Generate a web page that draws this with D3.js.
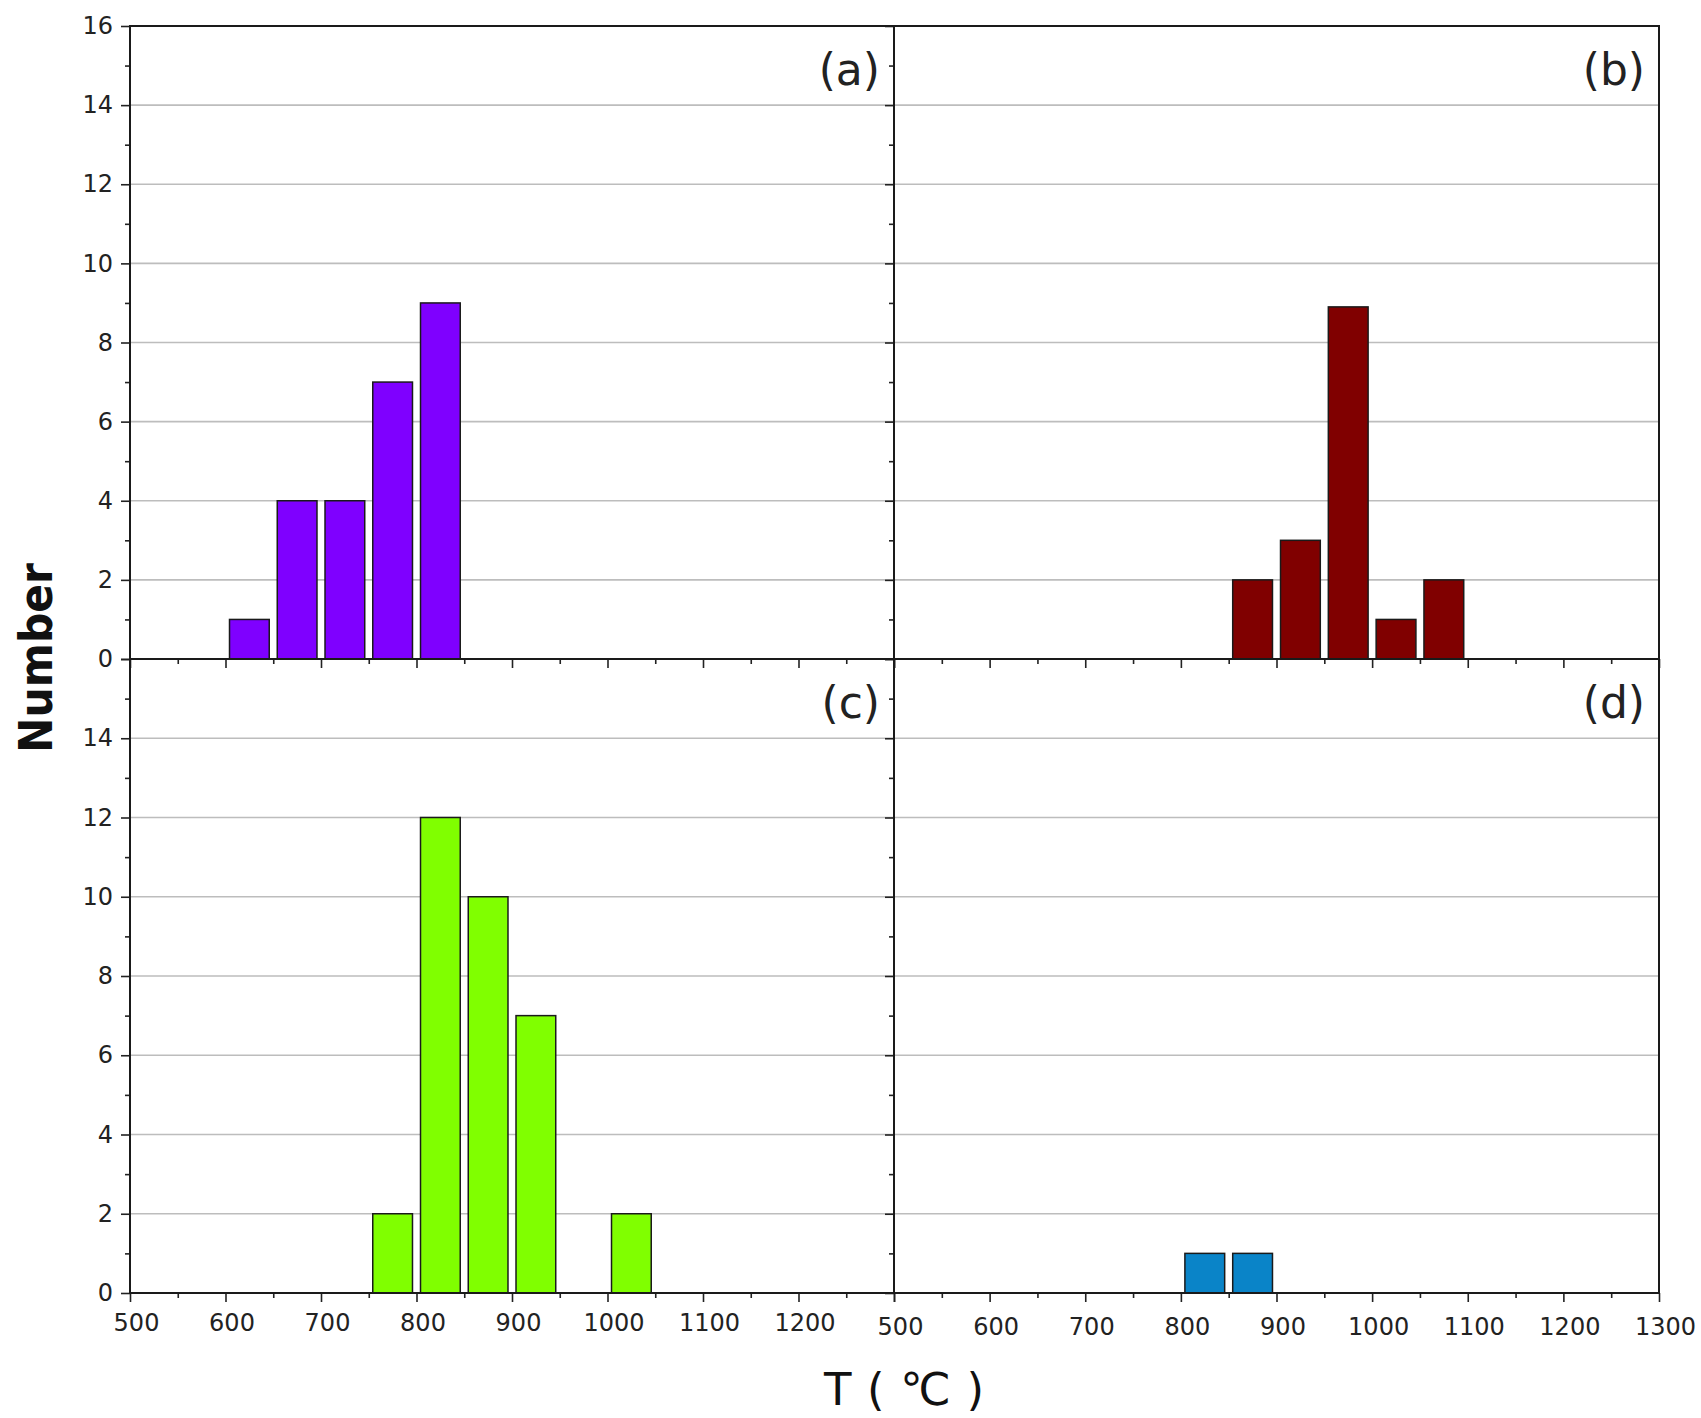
<!DOCTYPE html>
<html>
	<head>
		<title>Temperature histograms</title>
		<style>
			body, html {
				margin: 0;
				background: #fff;
			}

			.tick text {
				font-family: 'DejaVu Sans', sans-serif;
				font-size: 24px;
				fill: #222;
			}

			.tick line {
				stroke: #222;
				stroke-width: 1.6px;
			}

			.grid {
				stroke: #bdbdbd;
				stroke-width: 1.6px;
			}

			.frame {
				stroke: #1a1a1a;
				stroke-width: 2px;
				fill: none;
			}

			.bar {
				stroke: #1a1a1a;
				stroke-width: 1.5px;
			}
		</style>
	</head>
	<body>

		<svg id="svg" width="1701" height="1418"></svg>

		<script src="https://d3js.org/d3.v7.min.js"></script>
		<script>
			// Data: each bin is 50 degrees wide, the start of the bin is listed
			const binWidth = 50

			const binsA = [600, 650, 700, 750, 800]
			const countsA = [1, 4, 4, 7, 9]

			const binsB = [850, 900, 950, 1000, 1050]
			const countsB = [2, 3, 8.9, 1, 2]

			const binsC = [750, 800, 850, 900, 1000]
			const countsC = [2, 12, 10, 7, 2]

			const binsD = [800, 850]
			const countsD = [1, 1]

			const panelLabels = ['(a)', '(b)', '(c)', '(d)']
			const panelColors = ['#7f00ff', '#800000', '#80ff00', '#0a84c8']

			// Ticks
			const xMajor = [500, 600, 700, 800, 900, 1000, 1100, 1200, 1300]
			const xMinor = [550, 650, 750, 850, 950, 1050, 1150, 1250]
			const yMajor = [0, 2, 4, 6, 8, 10, 12, 14, 16]
			const yMinor = [1, 3, 5, 7, 9, 11, 13, 15]
			const gridValues = [2, 4, 6, 8, 10, 12, 14]

			// Frame of the 2x2 grid of panels
			const frameLeft = 130
			const frameMid = 894
			const frameRight = 1659
			const frameTop = 26
			const frameMidY = 659
			const frameBottom = 1293

			const panels = [
				{ bins: binsA, counts: countsA, col: 0, row: 0 },
				{ bins: binsB, counts: countsB, col: 1, row: 0 },
				{ bins: binsC, counts: countsC, col: 0, row: 1 },
				{ bins: binsD, counts: countsD, col: 1, row: 1 }
			]

			const svg = d3.select('#svg')

			panels.forEach((p, i) => {
				const x0 = p.col ? frameMid : frameLeft
				const x1 = p.col ? frameRight : frameMid
				const y0 = p.row ? frameMidY : frameTop
				const y1 = p.row ? frameBottom : frameMidY

				const x = d3.scaleLinear().domain([500, 1300]).range([x0, x1])
				const y = d3.scaleLinear().domain([0, 16]).range([y1, y0])

				const g = svg.append('g')

				// horizontal grid lines
				g.selectAll('.grid')
					.data(gridValues)
					.enter().append('line')
					.attr('class', 'grid')
					.attr('x1', x0)
					.attr('x2', x1)
					.attr('y1', d => y(d))
					.attr('y2', d => y(d))

				// bars, a little inset inside each bin
				const inset = 4.2
				g.selectAll('.bar')
					.data(p.bins.map((b, j) => ({ b, c: p.counts[j] })))
					.enter().append('rect')
					.attr('class', 'bar')
					.attr('x', d => x(d.b + inset))
					.attr('width', d => x(d.b + binWidth - inset) - x(d.b + inset))
					.attr('y', d => y(d.c))
					.attr('height', d => y(0) - y(d.c))
					.style('fill', panelColors[i])

				// x axis: labels only on the bottom row, 1300 only on the right
				const xAxis = g.append('g')
					.attr('transform', `translate(0,${y1})`)
					.call(d3.axisBottom(x)
						.tickValues(xMajor)
						.tickSize(9)
						.tickFormat(d => {
							if (!p.row) return ''
							if (p.col === 0 && d === 1300) return ''
							return d
						}))
				xAxis.select('.domain').remove()
				xAxis.selectAll('text')
					.attr('y', p.col ? 34 : 30)
					.attr('dy', '0.35em')
					.attr('dx', 6)

				const xMinorAxis = g.append('g')
					.attr('transform', `translate(0,${y1})`)
					.call(d3.axisBottom(x).tickValues(xMinor).tickSize(5).tickFormat(''))
				xMinorAxis.select('.domain').remove()

				// y axis: labels only on the left column
				const yAxis = g.append('g')
					.attr('transform', `translate(${x0},0)`)
					.call(d3.axisLeft(y)
						.tickValues(yMajor)
						.tickSize(9)
						.tickPadding(8)
						.tickFormat(d => {
							if (p.col) return ''
							if (p.row && d === 16) return ''
							return d
						}))
				yAxis.select('.domain').remove()

				const yMinorAxis = g.append('g')
					.attr('transform', `translate(${x0},0)`)
					.call(d3.axisLeft(y).tickValues(yMinor).tickSize(5).tickFormat(''))
				yMinorAxis.select('.domain').remove()

				// panel letter
				g.append('text')
					.attr('x', x1 - 14)
					.attr('y', y0 + 44)
					.attr('dy', '0.35em')
					.attr('text-anchor', 'end')
					.style('font-family', "'DejaVu Sans', sans-serif")
					.style('font-size', '44px')
					.style('fill', '#222')
					.text(panelLabels[i])
			})

			// frame lines on top
			svg.append('rect')
				.attr('class', 'frame')
				.attr('x', frameLeft)
				.attr('y', frameTop)
				.attr('width', frameRight - frameLeft)
				.attr('height', frameBottom - frameTop)
			svg.append('line')
				.attr('class', 'frame')
				.attr('x1', frameMid).attr('x2', frameMid)
				.attr('y1', frameTop).attr('y2', frameBottom)
			svg.append('line')
				.attr('class', 'frame')
				.attr('x1', frameLeft).attr('x2', frameRight)
				.attr('y1', frameMidY).attr('y2', frameMidY)

			// axis titles
			svg.append('text')
				.attr('transform', `translate(52, 658) rotate(-90)`)
				.attr('text-anchor', 'middle')
				.attr('textLength', 190)
				.attr('lengthAdjust', 'spacingAndGlyphs')
				.style('font-family', "'DejaVu Sans', sans-serif")
				.style('font-weight', 'bold')
				.style('font-size', '46px')
				.style('fill', '#111')
				.text('Number')

			svg.append('text')
				.attr('x', 824)
				.attr('y', 1405)
				.attr('textLength', 160)
				.attr('lengthAdjust', 'spacing')
				.style('font-family', "'DejaVu Sans', sans-serif")
				.style('font-size', '45px')
				.style('fill', '#111')
				.text('T ( ℃ )')
		</script>
	</body>
</html>
